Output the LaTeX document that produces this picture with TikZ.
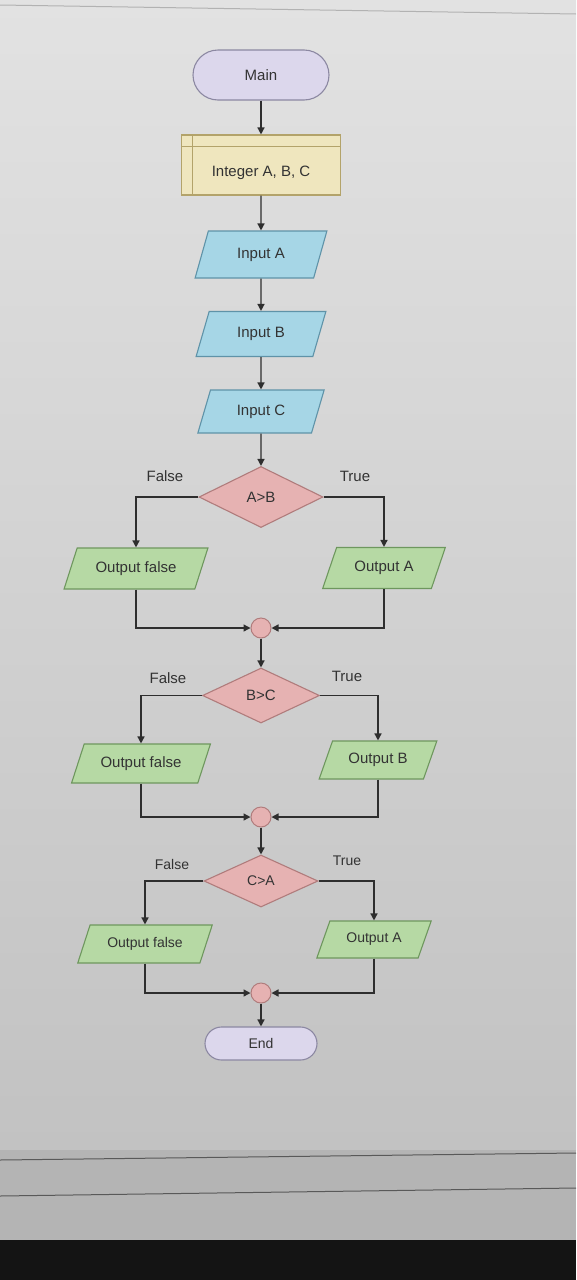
\documentclass[tikz,border=0pt]{standalone}
\usepackage{fontspec}
\setmainfont{Liberation Sans}
\usetikzlibrary{shapes.geometric,shapes.misc,arrows.meta,calc}
\definecolor{bgtop}{HTML}{E2E2E2}
\definecolor{bgbot}{HTML}{C2C2C2}
\definecolor{bgband}{HTML}{B4B4B4}
\definecolor{taskbar}{HTML}{141414}
\definecolor{txt}{HTML}{333333}
\definecolor{linec}{HTML}{2E2E2E}
\definecolor{termf}{HTML}{DCD7EC}
\definecolor{termb}{HTML}{8C88A2}
\definecolor{declf}{HTML}{EFE6BE}
\definecolor{declb}{HTML}{B3A36A}
\definecolor{inf}{HTML}{A6D6E6}
\definecolor{inb}{HTML}{5F93A8}
\definecolor{decf}{HTML}{E6B2B2}
\definecolor{decb}{HTML}{B07C7C}
\definecolor{outf}{HTML}{B6D9A4}
\definecolor{outb}{HTML}{6E975E}
\begin{document}
\begin{tikzpicture}[x=1pt,y=-1pt,
  every node/.style={font=\fontsize{15}{18}\selectfont, text=txt, inner sep=1pt},
  smalltext/.style={font=\fontsize{14}{17}\selectfont},
  conn/.style={draw=linec, line width=1.4pt},
  arr/.style={conn, -{Triangle[length=7pt,width=7pt]}},
  term/.style={shape=rounded rectangle, draw=termb, fill=termf, line width=1.1pt},
  decl/.style={shape=rectangle, draw=declb, fill=declf, line width=1.1pt},
  inp/.style={shape=trapezium, trapezium left angle=68, trapezium right angle=112,
    trapezium stretches=true, draw=inb, fill=inf, line width=1.1pt},
  outp/.style={shape=trapezium, trapezium left angle=60, trapezium right angle=120,
    trapezium stretches=true, draw=outb, fill=outf, line width=1.1pt},
  dec/.style={shape=diamond, draw=decb, fill=decf, line width=1.1pt},
  junc/.style={shape=circle, draw=decb, fill=decf, line width=1pt, minimum size=20pt, inner sep=0pt},
  lbl/.style={text=txt}]
% background
\useasboundingbox (0,0) rectangle (576,1280);
\shade[top color=bgtop, bottom color=bgbot] (0,0) rectangle (576,1150);
\fill[bgband] (0,1150) rectangle (576,1240);
\draw[gray!70!black, line width=1pt] (0,1160) -- (576,1153);
\draw[gray!70!black, line width=1pt] (0,1196) -- (576,1188);
\fill[taskbar] (0,1240) rectangle (576,1280);
\draw[gray!60, line width=1pt] (0,5) -- (576,14);

% main column
\node[term, minimum width=138pt, minimum height=50pt] (main) at (261,75) {Main};
\node[decl, minimum width=159pt, minimum height=60pt, text height=25pt, text depth=3pt] (decl) at (261,165) {Integer A, B, C};
\draw[declb, line width=1pt] ($(decl.north west)+(0,12)$) -- ($(decl.north east)+(0,12)$);
\draw[declb, line width=1pt] ($(decl.north west)+(12,0)$) -- ($(decl.south west)+(12,0)$);
\node[inp, minimum width=132pt, minimum height=47pt] (ia) at (261,254.5) {Input A};
\node[inp, minimum width=130pt, minimum height=45pt] (ib) at (261,334) {Input B};
\node[inp, minimum width=127pt, minimum height=43pt] (ic) at (261,411.5) {Input C};

% first decision
\node[dec, minimum width=124pt, minimum height=61pt] (d1) at (261,497) {A>B};
\node[lbl] (f1) at (165,476) {False};
\node[lbl] (t1) at (355,476) {True};
\node[outp, minimum width=144pt, minimum height=41pt] (of1) at (136,568.5) {Output false};
\node[outp, minimum width=123pt, minimum height=41pt] (oa1) at (384,568) {Output A};
\node[junc] (j1) at (261,628) {};

% second decision
\node[dec, minimum width=117pt, minimum height=55pt] (d2) at (261,695.5) {B>C};
\node[lbl] (f2) at (168,678) {False};
\node[lbl] (t2) at (347,676) {True};
\node[outp, minimum width=139pt, minimum height=39pt] (of2) at (141,763.5) {Output false};
\node[outp, minimum width=118pt, minimum height=38pt] (ob2) at (378,760) {Output B};
\node[junc] (j2) at (261,817) {};

% third decision
\node[dec, smalltext, minimum width=114pt, minimum height=52pt] (d3) at (261,881) {C>A};
\node[lbl, smalltext] (f3) at (172,864) {False};
\node[lbl, smalltext] (t3) at (347,861) {True};
\node[outp, smalltext, minimum width=135pt, minimum height=38pt] (of3) at (145,944) {Output false};
\node[outp, smalltext, minimum width=115pt, minimum height=37pt] (oa3) at (374,939.5) {Output A};
\node[junc] (j3) at (261,993) {};
\node[term, smalltext, minimum width=114pt, minimum height=33pt] (end) at (261,1043.5) {End};

% connectors
\draw[arr] (main.south) -- (decl.north);
\draw[arr] (decl.south) -- (ia.north);
\draw[arr] (ia.south) -- (ib.north);
\draw[arr] (ib.south) -- (ic.north);
\draw[arr] (ic.south) -- (d1.north);
\draw[arr] (d1.west) -| (of1.north);
\draw[arr] (d1.east) -| (oa1.north);
\draw[arr] (of1.south) |- (j1.west);
\draw[arr] (oa1.south) |- (j1.east);
\draw[arr] (j1.south) -- (d2.north);
\draw[arr] (d2.west) -| (of2.north);
\draw[arr] (d2.east) -| (ob2.north);
\draw[arr] (of2.south) |- (j2.west);
\draw[arr] (ob2.south) |- (j2.east);
\draw[arr] (j2.south) -- (d3.north);
\draw[arr] (d3.west) -| (of3.north);
\draw[arr] (d3.east) -| (oa3.north);
\draw[arr] (of3.south) |- (j3.west);
\draw[arr] (oa3.south) |- (j3.east);
\draw[arr] (j3.south) -- (end.north);
\end{tikzpicture}
\end{document}
